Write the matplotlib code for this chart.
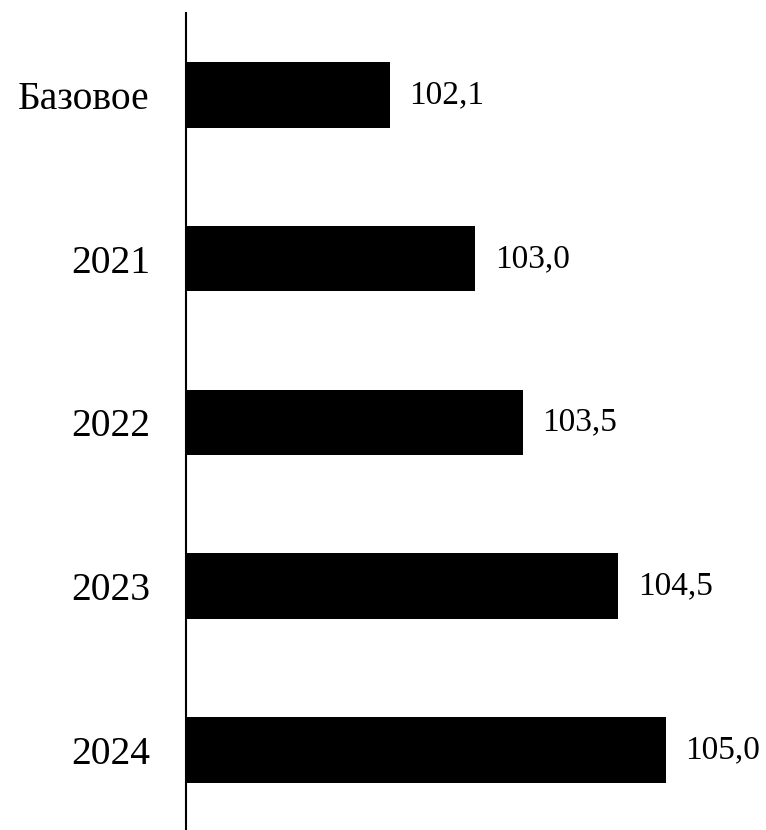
import matplotlib
matplotlib.use("Agg")
import matplotlib.pyplot as plt

categories = ["Базовое", "2021", "2022", "2023", "2024"]
values = [102.1, 103.0, 103.5, 104.5, 105.0]
value_labels = ["102,1", "103,0", "103,5", "104,5", "105,0"]

plt.rcParams['font.family'] = ['Liberation Serif', 'DejaVu Serif']

fig = plt.figure(figsize=(7.66, 8.30), dpi=100)
ax = fig.add_axes([186/766, 0, 580/766, 817/830])

base = 99.96
ypos = list(range(len(categories)))
ax.barh(ypos, [v - base for v in values], left=base, height=0.40, color='black')
ax.set_xlim(base, base + 580/95.2)
ax.set_ylim(4.49, -0.5)
ax.set_yticks(ypos)
ax.set_yticklabels(categories, fontsize=28.5)
ax.tick_params(axis='y', length=0, pad=26)
ax.set_xticks([])
for s in ['top', 'right', 'bottom']:
    ax.spines[s].set_visible(False)
ax.spines['left'].set_linewidth(1.5)

for y, v, lab in zip(ypos, values, value_labels):
    ax.annotate(lab, xy=(v, y), xytext=(14, 0), textcoords='offset points',
                va='center', ha='left', fontsize=24)

fig.savefig("out.png", dpi=100)
